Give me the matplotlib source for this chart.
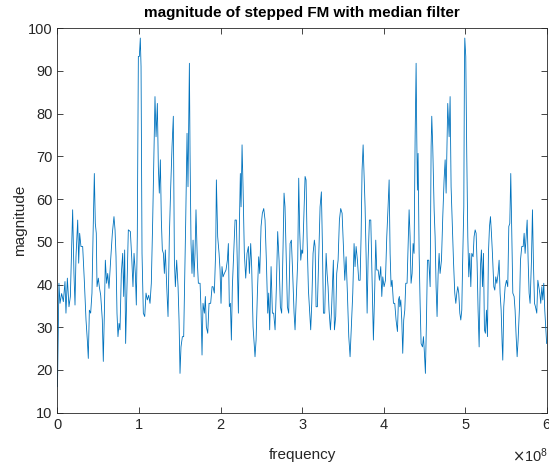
import numpy as np
import matplotlib
matplotlib.use("Agg")
import matplotlib.pyplot as plt

# (frequency in units of 1e8, magnitude), one list per band
band_0_1 = [(0.000, 16.1), (0.018, 40.3), (0.031, 35.6), (0.051, 37.9), (0.072, 36.0),
            (0.092, 40.7), (0.104, 33.3), (0.121, 41.5), (0.141, 34.8), (0.158, 37.2),
            (0.174, 48.5), (0.186, 57.5), (0.202, 42.6), (0.215, 35.2), (0.227, 46.5),
            (0.248, 55.1), (0.260, 45.0), (0.272, 52.0), (0.288, 48.9), (0.309, 48.9),
            (0.329, 41.0), (0.350, 31.7), (0.366, 27.0), (0.378, 22.7), (0.391, 34.0),
            (0.407, 33.3), (0.423, 38.0), (0.436, 51.2), (0.452, 66.0), (0.464, 54.3),
            (0.476, 52.0), (0.485, 39.5), (0.501, 41.5), (0.513, 39.5), (0.530, 37.5),
            (0.550, 31.7), (0.562, 22.0), (0.575, 33.3), (0.587, 45.7), (0.603, 40.3),
            (0.616, 42.6), (0.632, 39.1), (0.652, 45.7), (0.673, 52.0), (0.693, 55.9),
            (0.706, 52.8), (0.718, 46.5), (0.730, 33.3), (0.742, 27.8), (0.755, 30.9),
            (0.767, 29.4), (0.783, 42.6), (0.800, 47.3), (0.812, 37.2), (0.824, 48.1),
            (0.836, 26.2), (0.853, 39.5), (0.869, 52.8), (0.894, 52.4), (0.910, 46.5),
            (0.926, 39.5), (0.939, 47.3), (0.955, 42.6), (0.967, 35.2), (0.979, 51.2),
            (0.992, 93.4), (1.004, 93.4), (1.016, 97.7), (1.025, 91.0), (1.037, 47.3)]

band_1_2 = [(1.053, 33.3), (1.070, 32.5), (1.086, 38.0), (1.102, 36.4), (1.119, 37.5),
            (1.135, 35.6), (1.151, 40.3), (1.168, 55.1), (1.184, 72.3), (1.196, 84.0),
            (1.209, 74.6), (1.225, 82.4), (1.237, 67.6), (1.249, 61.4), (1.262, 69.2),
            (1.274, 55.1), (1.286, 48.1), (1.299, 47.3), (1.311, 42.6), (1.323, 48.1),
            (1.340, 39.5), (1.356, 32.5), (1.372, 51.2), (1.389, 62.9), (1.405, 72.3),
            (1.421, 79.4), (1.434, 45.7), (1.446, 39.5), (1.462, 45.7), (1.479, 39.5),
            (1.491, 31.7), (1.503, 19.2), (1.515, 25.4), (1.532, 27.8), (1.548, 27.8),
            (1.560, 41.0), (1.573, 55.1), (1.589, 75.4), (1.601, 62.9), (1.618, 91.8),
            (1.626, 70.7), (1.638, 49.6), (1.650, 42.6), (1.663, 50.4), (1.675, 41.8),
            (1.687, 47.3), (1.699, 57.5), (1.716, 45.0), (1.728, 40.3), (1.749, 40.3),
            (1.761, 34.0), (1.773, 23.5), (1.785, 35.6), (1.802, 33.3), (1.814, 37.2),
            (1.826, 30.1), (1.843, 28.6), (1.859, 35.6), (1.879, 35.6), (1.896, 39.5),
            (1.908, 39.5), (1.924, 38.0), (1.941, 48.1), (1.949, 64.5), (1.965, 51.2),
            (1.982, 47.3), (1.994, 43.4), (2.006, 35.6), (2.018, 44.2), (2.031, 41.8),
            (2.047, 42.6), (2.067, 43.4), (2.084, 45.7), (2.096, 49.6), (2.108, 34.8)]

band_2_3 = [(2.121, 35.6), (2.133, 27.0), (2.145, 39.5), (2.162, 47.3), (2.178, 55.1),
            (2.194, 55.1), (2.207, 44.2), (2.219, 33.3), (2.231, 53.6), (2.243, 66.0),
            (2.252, 58.2), (2.264, 72.7), (2.276, 62.9), (2.292, 47.3), (2.309, 41.5),
            (2.325, 47.3), (2.342, 48.9), (2.354, 42.6), (2.370, 49.6), (2.382, 44.2),
            (2.399, 30.1), (2.415, 25.4), (2.423, 23.1), (2.436, 27.0), (2.452, 38.0),
            (2.468, 46.5), (2.481, 42.6), (2.497, 53.6), (2.513, 56.7), (2.530, 57.8),
            (2.546, 55.1), (2.562, 45.7), (2.579, 33.3), (2.591, 38.0), (2.603, 29.4),
            (2.620, 44.2), (2.636, 33.3), (2.652, 33.3), (2.669, 29.4), (2.685, 39.5),
            (2.701, 52.4), (2.718, 45.7), (2.734, 34.8), (2.750, 33.3), (2.767, 48.9),
            (2.779, 61.4), (2.791, 58.2), (2.804, 47.3), (2.820, 34.8), (2.836, 33.3),
            (2.853, 49.6), (2.869, 50.4), (2.885, 42.6), (2.902, 33.3), (2.914, 29.4),
            (2.930, 37.2), (2.947, 45.7), (2.959, 64.9), (2.971, 52.4), (2.984, 45.7),
            (2.996, 48.1), (3.008, 47.3), (3.020, 55.1), (3.037, 65.3), (3.049, 64.5),
            (3.061, 51.2), (3.078, 38.7), (3.094, 33.3), (3.106, 29.4), (3.119, 35.6),
            (3.135, 47.3), (3.151, 50.4)]

band_3_4 = [(3.160, 48.9), (3.172, 34.8), (3.188, 34.8), (3.205, 47.3), (3.221, 58.2),
            (3.237, 61.7), (3.250, 48.9), (3.262, 33.3), (3.278, 33.3), (3.295, 47.3),
            (3.307, 42.6), (3.319, 39.5), (3.331, 34.0), (3.348, 29.4), (3.360, 33.3),
            (3.372, 39.5), (3.384, 45.7), (3.397, 29.4), (3.413, 32.5), (3.425, 42.6),
            (3.442, 45.7), (3.458, 55.1), (3.474, 57.8), (3.491, 56.7), (3.507, 48.9),
            (3.524, 41.0), (3.540, 46.5), (3.556, 38.0), (3.573, 27.8), (3.589, 23.1),
            (3.605, 30.1), (3.622, 38.0), (3.638, 49.6), (3.650, 44.2), (3.663, 48.9),
            (3.679, 45.7), (3.695, 41.0), (3.712, 41.0), (3.724, 51.2), (3.736, 66.8),
            (3.749, 72.7), (3.761, 65.3), (3.773, 58.2), (3.785, 47.3), (3.798, 33.3),
            (3.810, 45.7), (3.826, 55.1), (3.843, 55.1), (3.859, 41.0), (3.875, 27.0),
            (3.892, 39.5), (3.904, 50.4), (3.916, 43.4), (3.933, 43.4), (3.949, 41.0),
            (3.965, 44.2), (3.978, 37.2), (3.990, 41.8), (4.006, 39.5), (4.023, 41.0),
            (4.039, 51.2), (4.055, 58.2), (4.068, 64.5), (4.080, 47.3), (4.092, 39.5),
            (4.104, 41.0), (4.121, 35.6), (4.137, 35.6), (4.153, 31.7), (4.170, 29.0),
            (4.182, 36.4), (4.194, 37.2)]

band_4_5 = [(4.199, 34.8), (4.211, 36.4), (4.223, 31.7), (4.235, 23.9), (4.247, 31.7),
            (4.260, 34.0), (4.272, 40.3), (4.288, 40.3), (4.301, 48.9), (4.313, 57.5),
            (4.325, 51.2), (4.337, 40.3), (4.350, 42.6), (4.362, 49.6), (4.374, 47.3),
            (4.387, 74.6), (4.399, 91.8), (4.407, 74.6), (4.415, 62.1), (4.423, 70.7),
            (4.436, 47.3), (4.448, 35.6), (4.460, 26.2), (4.477, 25.4), (4.489, 27.8),
            (4.501, 23.9), (4.513, 19.2), (4.526, 31.7), (4.538, 45.7), (4.554, 45.7),
            (4.571, 39.5), (4.583, 72.3), (4.591, 79.4), (4.603, 72.3), (4.620, 57.5),
            (4.632, 51.2), (4.644, 39.5), (4.656, 32.5), (4.669, 42.6), (4.681, 47.3),
            (4.693, 42.6), (4.710, 45.7), (4.726, 55.9), (4.742, 64.5), (4.755, 69.2),
            (4.767, 61.4), (4.779, 74.6), (4.787, 82.4), (4.804, 74.6), (4.816, 84.0),
            (4.828, 62.9), (4.841, 55.1), (4.857, 45.7), (4.873, 38.0), (4.886, 35.6),
            (4.898, 38.0), (4.910, 39.5), (4.922, 38.0), (4.935, 33.3), (4.947, 31.7),
            (4.959, 34.0), (4.971, 46.5), (4.984, 58.2), (4.992, 92.6), (4.996, 97.7),
            (5.008, 93.4), (5.020, 70.7), (5.033, 51.2), (5.045, 41.8), (5.057, 47.3),
            (5.070, 39.5), (5.082, 47.3), (5.098, 46.5), (5.110, 51.2), (5.123, 52.8),
            (5.135, 52.0), (5.147, 45.0), (5.159, 34.0), (5.172, 25.4), (5.188, 44.2),
            (5.200, 48.1), (5.213, 39.5), (5.225, 47.3), (5.237, 29.4)]

band_5_6 = [(5.249, 28.6), (5.262, 34.0), (5.274, 27.8), (5.286, 47.3), (5.299, 53.6),
            (5.311, 55.9), (5.323, 52.0), (5.335, 47.3), (5.352, 39.5), (5.364, 38.7),
            (5.376, 41.8), (5.389, 40.3), (5.405, 42.6), (5.417, 45.7), (5.429, 38.0),
            (5.442, 34.0), (5.454, 26.2), (5.462, 22.3), (5.474, 34.8), (5.491, 39.5),
            (5.507, 41.0), (5.523, 39.5), (5.536, 53.6), (5.548, 54.3), (5.560, 66.0),
            (5.573, 51.2), (5.585, 38.0), (5.601, 37.2), (5.613, 34.0), (5.626, 27.8),
            (5.638, 23.1), (5.650, 27.0), (5.667, 34.8), (5.679, 45.7), (5.695, 48.9),
            (5.712, 48.9), (5.724, 52.0), (5.736, 47.3), (5.748, 51.2), (5.761, 55.1),
            (5.773, 45.7), (5.785, 38.0), (5.797, 35.6), (5.814, 45.7), (5.826, 57.5),
            (5.838, 45.0), (5.851, 35.6), (5.863, 34.8), (5.879, 33.3), (5.892, 41.0),
            (5.904, 39.5), (5.916, 38.0), (5.928, 35.6), (5.941, 39.5), (5.953, 36.4),
            (5.965, 40.3), (5.977, 34.0), (6.000, 26.2)]

x_ticks = [0, 1, 2, 3, 4, 5, 6]          # in units of 1e8
y_ticks = [10, 20, 30, 40, 50, 60, 70, 80, 90, 100]

bands = [band_0_1, band_1_2, band_2_3, band_3_4, band_4_5, band_5_6]
pts = np.array([p for b in bands for p in b])
freq = pts[:, 0] * 1e8
magnitude = pts[:, 1]

plt.rcParams['font.family'] = ['Liberation Sans', 'DejaVu Sans']
axis_grey = '#262626'

fig = plt.figure(figsize=(5.49, 4.66), dpi=100)
ax = fig.add_axes([0.1047, 0.1144, 0.891, 0.825])
ax.plot(freq, magnitude, color='#0072BD', linewidth=0.6)

ax.set_xlim(0, 6e8)
ax.set_ylim(10, 100)
ax.set_yticks(y_ticks)
ax.set_xticks([t * 1e8 for t in x_ticks])
ax.set_xticklabels([str(t) for t in x_ticks])

ax.tick_params(direction='in', top=True, right=True, length=4, width=0.6,
               labelsize=10.5, colors=axis_grey)
ax.tick_params(axis='x', pad=4)
for s in ax.spines.values():
    s.set_color(axis_grey)
    s.set_linewidth(0.6)

ax.set_title('magnitude of stepped FM with median filter', fontsize=11,
             fontweight='bold', color='black', pad=8)
ax.set_xlabel('frequency', fontsize=11, color=axis_grey, labelpad=11)
ax.set_ylabel('magnitude', fontsize=11, color=axis_grey, labelpad=1)

# MATLAB-style exponent label at lower right
fig.text(0.933, 0.009, r'$\times\mathregular{10^{8}}$', fontsize=10.5,
         color=axis_grey, ha='left', va='baseline')

fig.savefig('out.png', dpi=100)
